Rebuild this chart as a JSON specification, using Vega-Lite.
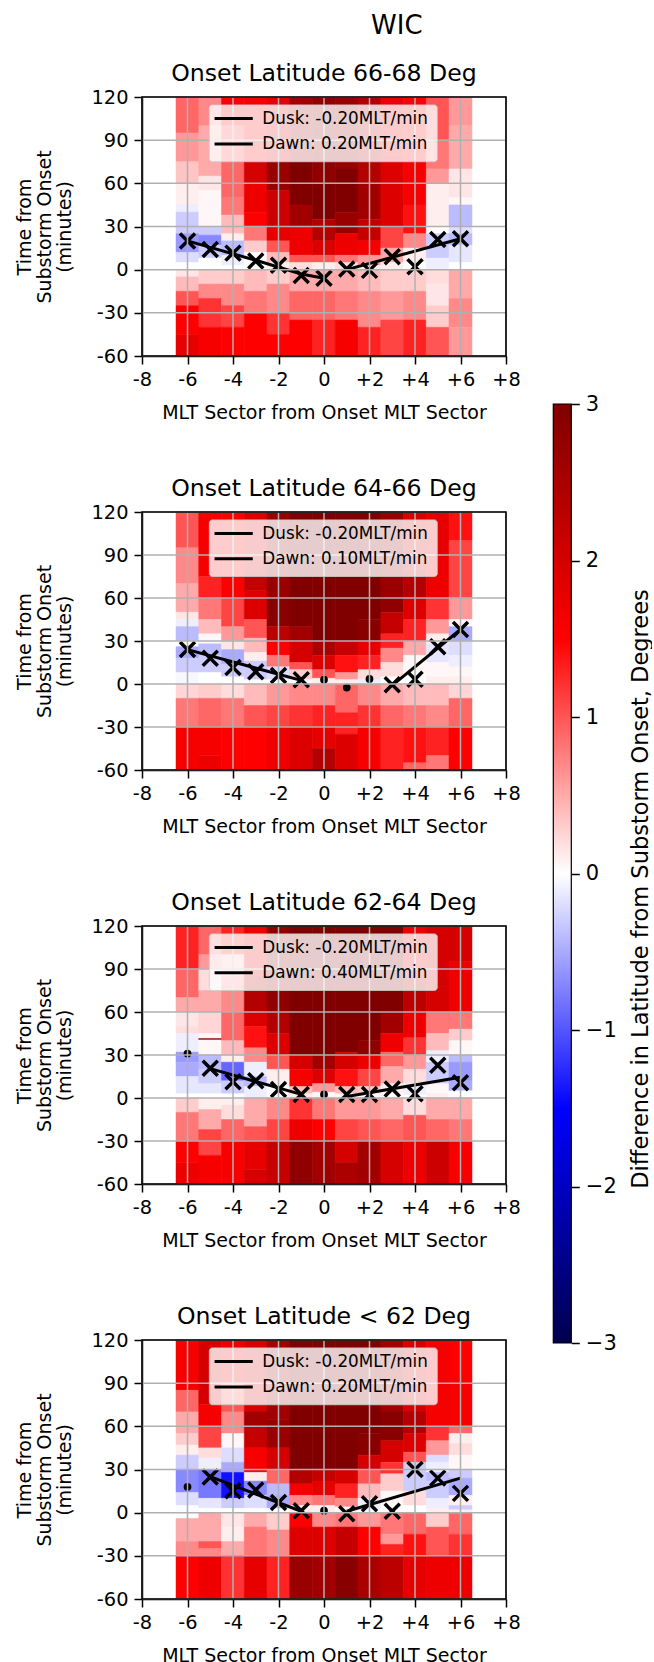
{"$schema":"https://vega.github.io/schema/vega-lite/v6.json","padding":{"left":15,"top":12,"right":0,"bottom":0},"bounds":"flush","spacing":411.3,"background":"white",
"title":{"text":"WIC","fontSize":26,"font":"DejaVu Sans","fontWeight":"normal","anchor":"start","frame":"group","dx":229,"offset":23.5,"color":"black"},
"config":{"font":"DejaVu Sans","view":{"stroke":null},"title":{"font":"DejaVu Sans","fontSize":23.6,"fontWeight":"normal","offset":1,"color":"black"},"axis":{"grid":false,"labelFont":"DejaVu Sans","titleFont":"DejaVu Sans","labelColor":"black","titleColor":"black","tickColor":"black","domainColor":"black","tickWidth":1.5,"domainWidth":1.5,"tickSize":8,"labelFontSize":19.4,"titleFontSize":19,"titleFontWeight":"normal","labelOverlap":false,"labelFlush":false,"labelPadding":6}},
"datasets":{
"gx":[{"g":-8},{"g":-6},{"g":-4},{"g":-2},{"g":0},{"g":2},{"g":4},{"g":6},{"g":8}],
"gy":[{"g":-60},{"g":-30},{"g":0},{"g":30},{"g":60},{"g":90},{"g":120}],
"frame":[{"l":-8,"r":8,"a":-60,"b":120}],
"box":[{"l":-5.04,"r":4.98,"a":75,"b":114.5}],
"samp":[{"l":-4.81,"r":-3.13,"y":105},{"l":-4.81,"r":-3.13,"y":87.4}],
"cbar":[{"l":0,"r":1,"a":-3,"b":3}],
"t1":[{"x":-2.71,"y":105,"t":"Dusk: -0.20MLT/min"},{"x":-2.71,"y":87.4,"t":"Dawn: 0.20MLT/min"}],
"t2":[{"x":-2.71,"y":105,"t":"Dusk: -0.20MLT/min"},{"x":-2.71,"y":87.4,"t":"Dawn: 0.10MLT/min"}],
"t3":[{"x":-2.71,"y":105,"t":"Dusk: -0.20MLT/min"},{"x":-2.71,"y":87.4,"t":"Dawn: 0.40MLT/min"}],
"t4":[{"x":-2.71,"y":105,"t":"Dusk: -0.20MLT/min"},{"x":-2.71,"y":87.4,"t":"Dawn: 0.20MLT/min"}],
"x1":[{"x":-6,"y":20},{"x":-5,"y":14},{"x":-4,"y":11.5},{"x":-3,"y":6},{"x":-2,"y":3},{"x":-1,"y":-4},{"x":0,"y":-6},{"x":1,"y":0.5},{"x":2,"y":-0.5},{"x":3,"y":9},{"x":4,"y":2},{"x":5,"y":21},{"x":6,"y":21.5}],
"x2":[{"x":-6,"y":24},{"x":-5,"y":18},{"x":-4,"y":11.5},{"x":-3,"y":8.6},{"x":-2,"y":6},{"x":-1,"y":3},{"x":3,"y":-0.5},{"x":4,"y":3.3},{"x":5,"y":26},{"x":6,"y":38}],
"x3":[{"x":-5,"y":20.7},{"x":-4,"y":11.4},{"x":-3,"y":12},{"x":-2,"y":6},{"x":-1,"y":2.5},{"x":1,"y":2.5},{"x":2,"y":2.5},{"x":3,"y":6.3},{"x":4,"y":3},{"x":5,"y":22.8},{"x":6,"y":10.7}],
"x4":[{"x":-5,"y":24.8},{"x":-4,"y":15.3},{"x":-3,"y":15.7},{"x":-2,"y":7},{"x":-1,"y":1.4},{"x":1,"y":-0.7},{"x":2,"y":6.2},{"x":3,"y":1},{"x":4,"y":30},{"x":5,"y":24},{"x":6,"y":13.4}],
"d2":[{"x":0,"y":3},{"x":1,"y":-2.5},{"x":2,"y":3.5}],
"d3":[{"x":-6,"y":31},{"x":0,"y":2.5}],
"d4":[{"x":-6,"y":18},{"x":0,"y":1.4}],
"l1":[{"s":"dusk","x":-6,"y":20},{"s":"dusk","x":-3,"y":6.5},{"s":"dusk","x":-1,"y":-3},{"s":"dusk","x":0,"y":-6},{"s":"dawn","x":1,"y":0},{"s":"dawn","x":6,"y":21.5}],
"l2":[{"s":"dusk","x":-6,"y":24},{"s":"dusk","x":-1,"y":2.5},{"s":"dawn","x":3,"y":-1},{"s":"dawn","x":6,"y":38}],
"l3":[{"s":"dusk","x":-5,"y":20.5},{"s":"dusk","x":-1,"y":2.5},{"s":"dawn","x":1,"y":1},{"s":"dawn","x":6,"y":14.5}],
"l4":[{"s":"dusk","x":-5,"y":25},{"s":"dusk","x":-1,"y":1},{"s":"dawn","x":1,"y":1},{"s":"dawn","x":6,"y":24}],
"c1":[
{"x":-6,"a":95,"b":120,"v":0.9},{"x":-6,"a":75,"b":95,"v":0.6},{"x":-6,"a":60,"b":75,"v":0.35},{"x":-6,"a":45,"b":60,"v":0.1},{"x":-6,"a":40,"b":45,"v":-0.1},{"x":-6,"a":25,"b":40,"v":-0.3},{"x":-6,"a":12,"b":25,"v":-0.6},{"x":-6,"a":5,"b":12,"v":-0.2},{"x":-6,"a":0,"b":5,"v":0},{"x":-6,"a":-5,"b":0,"v":0.15},{"x":-6,"a":-15,"b":-5,"v":0.4},{"x":-6,"a":-25,"b":-15,"v":1.0},{"x":-6,"a":-45,"b":-25,"v":1.5},{"x":-6,"a":-60,"b":-45,"v":1.8},
{"x":-5,"a":100,"b":120,"v":0.7},{"x":-5,"a":65,"b":100,"v":0.5},{"x":-5,"a":55,"b":65,"v":0.15},{"x":-5,"a":30,"b":55,"v":0.05},{"x":-5,"a":24,"b":30,"v":-0.3},{"x":-5,"a":17,"b":24,"v":-0.7},{"x":-5,"a":8,"b":17,"v":-0.3},{"x":-5,"a":0,"b":8,"v":0},{"x":-5,"a":-10,"b":0,"v":0.3},{"x":-5,"a":-20,"b":-10,"v":0.7},{"x":-5,"a":-40,"b":-20,"v":1.2},{"x":-5,"a":-60,"b":-40,"v":1.6},
{"x":-4,"a":100,"b":120,"v":1.5},{"x":-4,"a":75,"b":100,"v":1.1},{"x":-4,"a":50,"b":75,"v":0.9},{"x":-4,"a":38,"b":50,"v":0.8},{"x":-4,"a":25,"b":38,"v":0.4},{"x":-4,"a":20,"b":25,"v":0.1},{"x":-4,"a":10,"b":20,"v":-0.4},{"x":-4,"a":3,"b":10,"v":-0.1},{"x":-4,"a":0,"b":3,"v":0},{"x":-4,"a":-10,"b":0,"v":0.3},{"x":-4,"a":-25,"b":-10,"v":0.7},{"x":-4,"a":-40,"b":-25,"v":1.1},{"x":-4,"a":-60,"b":-40,"v":1.5},
{"x":-3,"a":100,"b":120,"v":1.6},{"x":-3,"a":75,"b":100,"v":1.5},{"x":-3,"a":60,"b":75,"v":2.0},{"x":-3,"a":40,"b":60,"v":1.7},{"x":-3,"a":30,"b":40,"v":1.5},{"x":-3,"a":20,"b":30,"v":0.8},{"x":-3,"a":12,"b":20,"v":0.3},{"x":-3,"a":0,"b":12,"v":0},{"x":-3,"a":-15,"b":0,"v":0.4},{"x":-3,"a":-30,"b":-15,"v":0.8},{"x":-3,"a":-60,"b":-30,"v":1.5},
{"x":-2,"a":100,"b":120,"v":1.8},{"x":-2,"a":75,"b":100,"v":1.9},{"x":-2,"a":55,"b":75,"v":2.7},{"x":-2,"a":30,"b":55,"v":2.1},{"x":-2,"a":20,"b":30,"v":1.8},{"x":-2,"a":12,"b":20,"v":1.0},{"x":-2,"a":5,"b":12,"v":0.4},{"x":-2,"a":0,"b":5,"v":0.1},{"x":-2,"a":-10,"b":0,"v":0.3},{"x":-2,"a":-30,"b":-10,"v":0.7},{"x":-2,"a":-45,"b":-30,"v":1.2},{"x":-2,"a":-60,"b":-45,"v":1.5},
{"x":-1,"a":75,"b":120,"v":2.6},{"x":-1,"a":45,"b":75,"v":3},{"x":-1,"a":30,"b":45,"v":2.6},{"x":-1,"a":10,"b":30,"v":1.7},{"x":-1,"a":5,"b":10,"v":1.0},{"x":-1,"a":0,"b":5,"v":0.2},{"x":-1,"a":-15,"b":0,"v":0.5},{"x":-1,"a":-35,"b":-15,"v":0.9},{"x":-1,"a":-60,"b":-35,"v":1.5},
{"x":0,"a":60,"b":120,"v":2.8},{"x":0,"a":35,"b":60,"v":3},{"x":0,"a":20,"b":35,"v":2.4},{"x":0,"a":10,"b":20,"v":1.9},{"x":0,"a":5,"b":10,"v":1.0},{"x":0,"a":0,"b":5,"v":0.1},{"x":0,"a":-15,"b":0,"v":0.5},{"x":0,"a":-35,"b":-15,"v":0.9},{"x":0,"a":-60,"b":-35,"v":1.3},
{"x":1,"a":70,"b":120,"v":2.7},{"x":1,"a":40,"b":70,"v":3},{"x":1,"a":25,"b":40,"v":2.7},{"x":1,"a":10,"b":25,"v":1.7},{"x":1,"a":5,"b":10,"v":0.8},{"x":1,"a":0,"b":5,"v":0.2},{"x":1,"a":-15,"b":0,"v":0.5},{"x":1,"a":-35,"b":-15,"v":0.8},{"x":1,"a":-60,"b":-35,"v":1.6},
{"x":2,"a":60,"b":120,"v":2.4},{"x":2,"a":35,"b":60,"v":2.6},{"x":2,"a":20,"b":35,"v":2.2},{"x":2,"a":10,"b":20,"v":1.6},{"x":2,"a":3,"b":10,"v":0.6},{"x":2,"a":0,"b":3,"v":0.1},{"x":2,"a":-15,"b":0,"v":0.4},{"x":2,"a":-40,"b":-15,"v":0.7},{"x":2,"a":-60,"b":-40,"v":1.3},
{"x":3,"a":80,"b":120,"v":1.7},{"x":3,"a":30,"b":80,"v":1.9},{"x":3,"a":15,"b":30,"v":1.1},{"x":3,"a":5,"b":15,"v":0.5},{"x":3,"a":0,"b":5,"v":0.1},{"x":3,"a":-15,"b":0,"v":0.3},{"x":3,"a":-35,"b":-15,"v":0.6},{"x":3,"a":-60,"b":-35,"v":1.1},
{"x":4,"a":80,"b":120,"v":1.5},{"x":4,"a":45,"b":80,"v":1.6},{"x":4,"a":25,"b":45,"v":1.4},{"x":4,"a":15,"b":25,"v":0.7},{"x":4,"a":5,"b":15,"v":0.1},{"x":4,"a":0,"b":5,"v":0},{"x":4,"a":-15,"b":0,"v":0.3},{"x":4,"a":-35,"b":-15,"v":0.7},{"x":4,"a":-60,"b":-35,"v":1.3},
{"x":5,"a":90,"b":120,"v":1.0},{"x":5,"a":70,"b":90,"v":0.8},{"x":5,"a":60,"b":70,"v":0.6},{"x":5,"a":30,"b":60,"v":0.1},{"x":5,"a":25,"b":30,"v":0},{"x":5,"a":8,"b":25,"v":-0.3},{"x":5,"a":0,"b":8,"v":-0.1},{"x":5,"a":-10,"b":0,"v":0.2},{"x":5,"a":-25,"b":-10,"v":0.15},{"x":5,"a":-40,"b":-25,"v":0.3},{"x":5,"a":-60,"b":-40,"v":1.0},
{"x":6,"a":100,"b":120,"v":0.6},{"x":6,"a":70,"b":100,"v":0.5},{"x":6,"a":50,"b":70,"v":0.15},{"x":6,"a":45,"b":50,"v":0.05},{"x":6,"a":30,"b":45,"v":-0.4},{"x":6,"a":25,"b":30,"v":-0.2},{"x":6,"a":17,"b":25,"v":-0.4},{"x":6,"a":5,"b":17,"v":-0.15},{"x":6,"a":0,"b":5,"v":0},{"x":6,"a":-20,"b":0,"v":0.5},{"x":6,"a":-40,"b":-20,"v":0.7},{"x":6,"a":-60,"b":-40,"v":0.6}],
"c2":[
{"x":-6,"a":95,"b":120,"v":1.0},{"x":-6,"a":70,"b":95,"v":0.7},{"x":-6,"a":50,"b":70,"v":0.5},{"x":-6,"a":45,"b":50,"v":0.15},{"x":-6,"a":40,"b":45,"v":-0.1},{"x":-6,"a":30,"b":40,"v":-0.4},{"x":-6,"a":26,"b":30,"v":0},{"x":-6,"a":18,"b":26,"v":-0.5},{"x":-6,"a":8,"b":18,"v":-0.3},{"x":-6,"a":0,"b":8,"v":-0.05},{"x":-6,"a":-10,"b":0,"v":0.25},{"x":-6,"a":-30,"b":-10,"v":0.8},{"x":-6,"a":-60,"b":-30,"v":1.6},
{"x":-5,"a":75,"b":120,"v":1.6},{"x":-5,"a":60,"b":75,"v":1.3},{"x":-5,"a":45,"b":60,"v":0.8},{"x":-5,"a":35,"b":45,"v":0.4},{"x":-5,"a":28,"b":35,"v":0.05},{"x":-5,"a":20,"b":28,"v":-0.4},{"x":-5,"a":8,"b":20,"v":-0.3},{"x":-5,"a":0,"b":8,"v":0},{"x":-5,"a":-10,"b":0,"v":0.3},{"x":-5,"a":-30,"b":-10,"v":0.9},{"x":-5,"a":-50,"b":-30,"v":1.6},{"x":-5,"a":-60,"b":-50,"v":1.7},
{"x":-4,"a":60,"b":120,"v":1.5},{"x":-4,"a":40,"b":60,"v":1.1},{"x":-4,"a":30,"b":40,"v":0.6},{"x":-4,"a":24,"b":30,"v":0.15},{"x":-4,"a":14,"b":24,"v":-0.5},{"x":-4,"a":5,"b":14,"v":-0.3},{"x":-4,"a":0,"b":5,"v":0},{"x":-4,"a":-10,"b":0,"v":0.2},{"x":-4,"a":-30,"b":-10,"v":0.8},{"x":-4,"a":-60,"b":-30,"v":1.5},
{"x":-3,"a":80,"b":120,"v":1.9},{"x":-3,"a":65,"b":80,"v":2.2},{"x":-3,"a":45,"b":65,"v":1.9},{"x":-3,"a":32,"b":45,"v":1.0},{"x":-3,"a":22,"b":32,"v":0.4},{"x":-3,"a":16,"b":22,"v":0.1},{"x":-3,"a":3,"b":16,"v":-0.3},{"x":-3,"a":0,"b":3,"v":0},{"x":-3,"a":-15,"b":0,"v":0.4},{"x":-3,"a":-30,"b":-15,"v":1},{"x":-3,"a":-60,"b":-30,"v":1.5},
{"x":-2,"a":60,"b":120,"v":2.7},{"x":-2,"a":40,"b":60,"v":2.9},{"x":-2,"a":30,"b":40,"v":2.3},{"x":-2,"a":20,"b":30,"v":1.5},{"x":-2,"a":12,"b":20,"v":0.8},{"x":-2,"a":3,"b":12,"v":-0.2},{"x":-2,"a":0,"b":3,"v":0},{"x":-2,"a":-15,"b":0,"v":0.6},{"x":-2,"a":-30,"b":-15,"v":1.1},{"x":-2,"a":-60,"b":-30,"v":1.7},
{"x":-1,"a":40,"b":120,"v":3},{"x":-1,"a":30,"b":40,"v":2.6},{"x":-1,"a":15,"b":30,"v":2},{"x":-1,"a":10,"b":15,"v":1},{"x":-1,"a":3,"b":10,"v":0.3},{"x":-1,"a":0,"b":3,"v":0},{"x":-1,"a":-15,"b":0,"v":0.7},{"x":-1,"a":-30,"b":-15,"v":1.2},{"x":-1,"a":-60,"b":-30,"v":1.9},
{"x":0,"a":30,"b":120,"v":3},{"x":0,"a":20,"b":30,"v":2.5},{"x":0,"a":10,"b":20,"v":1.9},{"x":0,"a":4,"b":10,"v":1},{"x":0,"a":0,"b":4,"v":0.1},{"x":0,"a":-15,"b":0,"v":0.7},{"x":0,"a":-30,"b":-15,"v":1.3},{"x":0,"a":-45,"b":-30,"v":1.8},{"x":0,"a":-60,"b":-45,"v":2.4},
{"x":1,"a":30,"b":120,"v":3},{"x":1,"a":20,"b":30,"v":2.2},{"x":1,"a":8,"b":20,"v":1.4},{"x":1,"a":3,"b":8,"v":0.6},{"x":1,"a":0,"b":3,"v":0.1},{"x":1,"a":-20,"b":0,"v":0.9},{"x":1,"a":-35,"b":-20,"v":1.3},{"x":1,"a":-60,"b":-35,"v":1.9},
{"x":2,"a":45,"b":120,"v":3},{"x":2,"a":30,"b":45,"v":2.9},{"x":2,"a":20,"b":30,"v":1.8},{"x":2,"a":10,"b":20,"v":1.3},{"x":2,"a":3,"b":10,"v":0.2},{"x":2,"a":0,"b":3,"v":-0.1},{"x":2,"a":-15,"b":0,"v":0.7},{"x":2,"a":-30,"b":-15,"v":1.2},{"x":2,"a":-60,"b":-30,"v":1.6},
{"x":3,"a":60,"b":120,"v":2.7},{"x":3,"a":50,"b":60,"v":2.8},{"x":3,"a":35,"b":50,"v":2.2},{"x":3,"a":25,"b":35,"v":1.3},{"x":3,"a":15,"b":25,"v":0.7},{"x":3,"a":5,"b":15,"v":0.2},{"x":3,"a":0,"b":5,"v":0},{"x":3,"a":-15,"b":0,"v":0.5},{"x":3,"a":-30,"b":-15,"v":0.9},{"x":3,"a":-60,"b":-30,"v":1.3},
{"x":4,"a":80,"b":120,"v":2},{"x":4,"a":60,"b":80,"v":2.4},{"x":4,"a":45,"b":60,"v":1.9},{"x":4,"a":30,"b":45,"v":1.3},{"x":4,"a":20,"b":30,"v":0.5},{"x":4,"a":8,"b":20,"v":0.05},{"x":4,"a":0,"b":8,"v":0},{"x":4,"a":-15,"b":0,"v":0.4},{"x":4,"a":-30,"b":-15,"v":0.8},{"x":4,"a":-55,"b":-30,"v":1.4},{"x":4,"a":-60,"b":-55,"v":0.9},
{"x":5,"a":90,"b":120,"v":1.8},{"x":5,"a":60,"b":90,"v":1.7},{"x":5,"a":45,"b":60,"v":1.2},{"x":5,"a":35,"b":45,"v":0.6},{"x":5,"a":28,"b":35,"v":0.1},{"x":5,"a":15,"b":28,"v":-0.15},{"x":5,"a":5,"b":15,"v":0.05},{"x":5,"a":0,"b":5,"v":0.1},{"x":5,"a":-15,"b":0,"v":0.4},{"x":5,"a":-30,"b":-15,"v":0.7},{"x":5,"a":-50,"b":-30,"v":1.3},{"x":5,"a":-60,"b":-50,"v":0.8},
{"x":6,"a":100,"b":120,"v":1.4},{"x":6,"a":60,"b":100,"v":1.1},{"x":6,"a":45,"b":60,"v":0.6},{"x":6,"a":40,"b":45,"v":0.05},{"x":6,"a":30,"b":40,"v":-0.5},{"x":6,"a":20,"b":30,"v":-0.2},{"x":6,"a":12,"b":20,"v":-0.1},{"x":6,"a":5,"b":12,"v":0.05},{"x":6,"a":0,"b":5,"v":0.1},{"x":6,"a":-10,"b":0,"v":0.25},{"x":6,"a":-30,"b":-10,"v":0.9},{"x":6,"a":-60,"b":-30,"v":1.5}],
"c3":[
{"x":-6,"a":90,"b":120,"v":1.3},{"x":-6,"a":70,"b":90,"v":0.9},{"x":-6,"a":60,"b":70,"v":0.5},{"x":-6,"a":50,"b":60,"v":0.15},{"x":-6,"a":45,"b":50,"v":0.2},{"x":-6,"a":32,"b":45,"v":-0.1},{"x":-6,"a":25,"b":32,"v":-0.6},{"x":-6,"a":15,"b":25,"v":-0.5},{"x":-6,"a":3,"b":15,"v":-0.15},{"x":-6,"a":0,"b":3,"v":0},{"x":-6,"a":-10,"b":0,"v":0.3},{"x":-6,"a":-30,"b":-10,"v":0.8},{"x":-6,"a":-45,"b":-30,"v":1.5},{"x":-6,"a":-60,"b":-45,"v":1.7},
{"x":-5,"a":100,"b":120,"v":0.9},{"x":-5,"a":90,"b":100,"v":0.6},{"x":-5,"a":75,"b":90,"v":0.2},{"x":-5,"a":60,"b":75,"v":0.5},{"x":-5,"a":45,"b":60,"v":0.25},{"x":-5,"a":41.5,"b":45,"v":0.05},{"x":-5,"a":40.5,"b":41.5,"v":2.8},{"x":-5,"a":30,"b":40.5,"v":0.05},{"x":-5,"a":20,"b":30,"v":-0.4},{"x":-5,"a":10,"b":20,"v":-0.3},{"x":-5,"a":3,"b":10,"v":-0.15},{"x":-5,"a":0,"b":3,"v":0},{"x":-5,"a":-8,"b":0,"v":0.1},{"x":-5,"a":-22,"b":-8,"v":0.5},{"x":-5,"a":-40,"b":-22,"v":1.1},{"x":-5,"a":-60,"b":-40,"v":1.6},
{"x":-4,"a":100,"b":120,"v":1.3},{"x":-4,"a":85,"b":100,"v":0.4},{"x":-4,"a":60,"b":85,"v":0.7},{"x":-4,"a":40,"b":60,"v":0.9},{"x":-4,"a":30,"b":40,"v":0.4},{"x":-4,"a":25,"b":30,"v":0.1},{"x":-4,"a":12,"b":25,"v":-0.9},{"x":-4,"a":3,"b":12,"v":-0.3},{"x":-4,"a":0,"b":3,"v":0},{"x":-4,"a":-5,"b":0,"v":0.1},{"x":-4,"a":-15,"b":-5,"v":0.2},{"x":-4,"a":-30,"b":-15,"v":0.9},{"x":-4,"a":-60,"b":-30,"v":1.6},
{"x":-3,"a":85,"b":120,"v":1.7},{"x":-3,"a":60,"b":85,"v":2.4},{"x":-3,"a":50,"b":60,"v":1.9},{"x":-3,"a":35,"b":50,"v":1.4},{"x":-3,"a":25,"b":35,"v":0.7},{"x":-3,"a":15,"b":25,"v":-0.1},{"x":-3,"a":8,"b":15,"v":-0.4},{"x":-3,"a":0,"b":8,"v":-0.1},{"x":-3,"a":-20,"b":0,"v":0.5},{"x":-3,"a":-30,"b":-20,"v":1},{"x":-3,"a":-50,"b":-30,"v":1.8},{"x":-3,"a":-60,"b":-50,"v":2},
{"x":-2,"a":60,"b":120,"v":2.8},{"x":-2,"a":45,"b":60,"v":2.4},{"x":-2,"a":30,"b":45,"v":1.9},{"x":-2,"a":20,"b":30,"v":1.0},{"x":-2,"a":8,"b":20,"v":0.1},{"x":-2,"a":0,"b":8,"v":0},{"x":-2,"a":-15,"b":0,"v":0.7},{"x":-2,"a":-30,"b":-15,"v":1.1},{"x":-2,"a":-60,"b":-30,"v":2.2},
{"x":-1,"a":30,"b":120,"v":3},{"x":-1,"a":20,"b":30,"v":2},{"x":-1,"a":8,"b":20,"v":1.6},{"x":-1,"a":3,"b":8,"v":0.4},{"x":-1,"a":0,"b":3,"v":0.1},{"x":-1,"a":-15,"b":0,"v":1.2},{"x":-1,"a":-30,"b":-15,"v":1.7},{"x":-1,"a":-60,"b":-30,"v":2.8},
{"x":0,"a":30,"b":120,"v":3},{"x":0,"a":20,"b":30,"v":2.6},{"x":0,"a":10,"b":20,"v":1.9},{"x":0,"a":4,"b":10,"v":0.6},{"x":0,"a":0,"b":4,"v":0.05},{"x":0,"a":-15,"b":0,"v":0.8},{"x":0,"a":-30,"b":-15,"v":1.5},{"x":0,"a":-60,"b":-30,"v":2.6},
{"x":1,"a":32,"b":120,"v":3},{"x":1,"a":20,"b":32,"v":2},{"x":1,"a":8,"b":20,"v":1.4},{"x":1,"a":3,"b":8,"v":0.4},{"x":1,"a":0,"b":3,"v":0.05},{"x":1,"a":-15,"b":0,"v":0.6},{"x":1,"a":-30,"b":-15,"v":1.1},{"x":1,"a":-45,"b":-30,"v":2},{"x":1,"a":-60,"b":-45,"v":2.5},
{"x":2,"a":40,"b":120,"v":3},{"x":2,"a":30,"b":40,"v":2.8},{"x":2,"a":20,"b":30,"v":1.7},{"x":2,"a":8,"b":20,"v":1.1},{"x":2,"a":3,"b":8,"v":0.3},{"x":2,"a":0,"b":3,"v":0},{"x":2,"a":-15,"b":0,"v":0.6},{"x":2,"a":-30,"b":-15,"v":1},{"x":2,"a":-60,"b":-30,"v":2.6},
{"x":3,"a":60,"b":120,"v":3},{"x":3,"a":45,"b":60,"v":2.6},{"x":3,"a":32,"b":45,"v":1.7},{"x":3,"a":22,"b":32,"v":0.9},{"x":3,"a":10,"b":22,"v":0.5},{"x":3,"a":3,"b":10,"v":0.1},{"x":3,"a":0,"b":3,"v":0},{"x":3,"a":-15,"b":0,"v":0.5},{"x":3,"a":-30,"b":-15,"v":0.9},{"x":3,"a":-60,"b":-30,"v":2},
{"x":4,"a":85,"b":120,"v":1.7},{"x":4,"a":60,"b":85,"v":2.3},{"x":4,"a":42,"b":60,"v":1.7},{"x":4,"a":30,"b":42,"v":1.2},{"x":4,"a":20,"b":30,"v":0.6},{"x":4,"a":10,"b":20,"v":0.2},{"x":4,"a":2,"b":10,"v":-0.1},{"x":4,"a":0,"b":2,"v":0},{"x":4,"a":-12,"b":0,"v":0.2},{"x":4,"a":-30,"b":-12,"v":1},{"x":4,"a":-60,"b":-30,"v":1.7},
{"x":5,"a":60,"b":120,"v":2},{"x":5,"a":45,"b":60,"v":0.8},{"x":5,"a":33,"b":45,"v":0.4},{"x":5,"a":25,"b":33,"v":-0.1},{"x":5,"a":10,"b":25,"v":-0.3},{"x":5,"a":3,"b":10,"v":0.05},{"x":5,"a":0,"b":3,"v":0.1},{"x":5,"a":-15,"b":0,"v":0.5},{"x":5,"a":-30,"b":-15,"v":0.9},{"x":5,"a":-60,"b":-30,"v":2.1},
{"x":6,"a":95,"b":120,"v":2},{"x":6,"a":60,"b":95,"v":1.7},{"x":6,"a":48,"b":60,"v":0.8},{"x":6,"a":40,"b":48,"v":0.3},{"x":6,"a":30,"b":40,"v":0.05},{"x":6,"a":25,"b":30,"v":-0.4},{"x":6,"a":12,"b":25,"v":-0.6},{"x":6,"a":5,"b":12,"v":-0.5},{"x":6,"a":0,"b":5,"v":0},{"x":6,"a":-15,"b":0,"v":0.5},{"x":6,"a":-30,"b":-15,"v":0.8},{"x":6,"a":-60,"b":-30,"v":1.6}],
"c4":[
{"x":-6,"a":85,"b":120,"v":1.6},{"x":-6,"a":70,"b":85,"v":0.9},{"x":-6,"a":55,"b":70,"v":0.5},{"x":-6,"a":47,"b":55,"v":0.3},{"x":-6,"a":40,"b":47,"v":0.1},{"x":-6,"a":30,"b":40,"v":-0.3},{"x":-6,"a":14,"b":30,"v":-0.7},{"x":-6,"a":5,"b":14,"v":-0.2},{"x":-6,"a":-4,"b":5,"v":-0.02},{"x":-6,"a":-20,"b":-4,"v":0.5},{"x":-6,"a":-30,"b":-20,"v":0.7},{"x":-6,"a":-60,"b":-30,"v":1.5},
{"x":-5,"a":75,"b":120,"v":2},{"x":-5,"a":60,"b":75,"v":1.6},{"x":-5,"a":45,"b":60,"v":1.1},{"x":-5,"a":38,"b":45,"v":0.2},{"x":-5,"a":30,"b":38,"v":-0.1},{"x":-5,"a":10,"b":30,"v":-0.8},{"x":-5,"a":3,"b":10,"v":-0.15},{"x":-5,"a":0,"b":3,"v":0},{"x":-5,"a":-20,"b":0,"v":0.5},{"x":-5,"a":-25,"b":-20,"v":1},{"x":-5,"a":-30,"b":-25,"v":0.7},{"x":-5,"a":-60,"b":-30,"v":1.7},
{"x":-4,"a":90,"b":120,"v":1.7},{"x":-4,"a":70,"b":90,"v":1},{"x":-4,"a":55,"b":70,"v":0.7},{"x":-4,"a":45,"b":55,"v":0.05},{"x":-4,"a":35,"b":45,"v":-0.2},{"x":-4,"a":28,"b":35,"v":-0.5},{"x":-4,"a":10,"b":28,"v":-1.4},{"x":-4,"a":3,"b":10,"v":-0.3},{"x":-4,"a":0,"b":3,"v":0},{"x":-4,"a":-10,"b":0,"v":0.15},{"x":-4,"a":-20,"b":-10,"v":0.1},{"x":-4,"a":-30,"b":-20,"v":0.5},{"x":-4,"a":-60,"b":-30,"v":1.2},
{"x":-3,"a":70,"b":120,"v":2},{"x":-3,"a":60,"b":70,"v":2.6},{"x":-3,"a":45,"b":60,"v":2.2},{"x":-3,"a":28,"b":45,"v":1.6},{"x":-3,"a":22,"b":28,"v":0.1},{"x":-3,"a":12,"b":22,"v":-0.7},{"x":-3,"a":3,"b":12,"v":-0.2},{"x":-3,"a":0,"b":3,"v":0},{"x":-3,"a":-10,"b":0,"v":0.5},{"x":-3,"a":-30,"b":-10,"v":0.8},{"x":-3,"a":-60,"b":-30,"v":1.8},
{"x":-2,"a":65,"b":120,"v":2.6},{"x":-2,"a":45,"b":65,"v":2.7},{"x":-2,"a":30,"b":45,"v":2},{"x":-2,"a":20,"b":30,"v":0.9},{"x":-2,"a":12,"b":20,"v":-0.4},{"x":-2,"a":3,"b":12,"v":-0.5},{"x":-2,"a":0,"b":3,"v":0},{"x":-2,"a":-12,"b":0,"v":0.3},{"x":-2,"a":-30,"b":-12,"v":0.7},{"x":-2,"a":-60,"b":-30,"v":1.3},
{"x":-1,"a":30,"b":120,"v":3},{"x":-1,"a":20,"b":30,"v":2.4},{"x":-1,"a":12,"b":20,"v":1.6},{"x":-1,"a":5,"b":12,"v":0.7},{"x":-1,"a":0,"b":5,"v":0.1},{"x":-1,"a":-10,"b":0,"v":1.5},{"x":-1,"a":-30,"b":-10,"v":1.9},{"x":-1,"a":-60,"b":-30,"v":2.7},
{"x":0,"a":30,"b":120,"v":3},{"x":0,"a":22,"b":30,"v":2.2},{"x":0,"a":12,"b":22,"v":1.8},{"x":0,"a":5,"b":12,"v":0.8},{"x":0,"a":0,"b":5,"v":0.1},{"x":0,"a":-10,"b":0,"v":0.7},{"x":0,"a":-30,"b":-10,"v":1.9},{"x":0,"a":-60,"b":-30,"v":2.6},
{"x":1,"a":30,"b":120,"v":3},{"x":1,"a":20,"b":30,"v":2},{"x":1,"a":10,"b":20,"v":1.3},{"x":1,"a":4,"b":10,"v":0.7},{"x":1,"a":0,"b":4,"v":0.05},{"x":1,"a":-10,"b":0,"v":0.8},{"x":1,"a":-30,"b":-10,"v":2.2},{"x":1,"a":-60,"b":-30,"v":2.9},
{"x":2,"a":55,"b":120,"v":3},{"x":2,"a":40,"b":55,"v":2.9},{"x":2,"a":30,"b":40,"v":2},{"x":2,"a":20,"b":30,"v":1},{"x":2,"a":10,"b":20,"v":0.4},{"x":2,"a":2,"b":10,"v":-0.1},{"x":2,"a":0,"b":2,"v":0},{"x":2,"a":-10,"b":0,"v":0.6},{"x":2,"a":-30,"b":-10,"v":1.5},{"x":2,"a":-60,"b":-30,"v":2.5},
{"x":3,"a":70,"b":120,"v":2.6},{"x":3,"a":50,"b":70,"v":2.9},{"x":3,"a":35,"b":50,"v":2},{"x":3,"a":27,"b":35,"v":1.2},{"x":3,"a":15,"b":27,"v":0.3},{"x":3,"a":5,"b":15,"v":0.05},{"x":3,"a":0,"b":5,"v":0},{"x":3,"a":-15,"b":0,"v":0.8},{"x":3,"a":-22,"b":-15,"v":0.6},{"x":3,"a":-30,"b":-22,"v":1.3},{"x":3,"a":-60,"b":-30,"v":2.3},
{"x":4,"a":70,"b":120,"v":2},{"x":4,"a":55,"b":70,"v":2.4},{"x":4,"a":42,"b":55,"v":1.9},{"x":4,"a":35,"b":42,"v":1},{"x":4,"a":15,"b":35,"v":-0.3},{"x":4,"a":5,"b":15,"v":0.2},{"x":4,"a":0,"b":5,"v":0},{"x":4,"a":-15,"b":0,"v":0.9},{"x":4,"a":-30,"b":-15,"v":1.4},{"x":4,"a":-60,"b":-30,"v":1.8},
{"x":5,"a":60,"b":120,"v":1.6},{"x":5,"a":50,"b":60,"v":1.2},{"x":5,"a":40,"b":50,"v":0.6},{"x":5,"a":35,"b":40,"v":-0.2},{"x":5,"a":28,"b":35,"v":-0.1},{"x":5,"a":22,"b":28,"v":-0.4},{"x":5,"a":10,"b":22,"v":-0.3},{"x":5,"a":3,"b":10,"v":-0.1},{"x":5,"a":0,"b":3,"v":0.1},{"x":5,"a":-10,"b":0,"v":0.3},{"x":5,"a":-30,"b":-10,"v":1},{"x":5,"a":-60,"b":-30,"v":1.7},
{"x":6,"a":90,"b":120,"v":1.5},{"x":6,"a":60,"b":90,"v":1.6},{"x":6,"a":55,"b":60,"v":0.9},{"x":6,"a":48,"b":55,"v":0.1},{"x":6,"a":40,"b":48,"v":0.2},{"x":6,"a":30,"b":40,"v":0.05},{"x":6,"a":24,"b":30,"v":-0.3},{"x":6,"a":12,"b":24,"v":-0.5},{"x":6,"a":5,"b":12,"v":0.1},{"x":6,"a":2,"b":5,"v":-0.3},{"x":6,"a":0,"b":2,"v":0.1},{"x":6,"a":-15,"b":0,"v":0.9},{"x":6,"a":-30,"b":-15,"v":1.2},{"x":6,"a":-60,"b":-30,"v":1.7}]
},
"hconcat":[
{"spacing":156,"bounds":"flush","vconcat":[
{"title":"Onset Latitude 66-68 Deg","width":364,"height":259,"layer":[
{"data":{"name":"c1"},"mark":{"type":"rect","width":23,"strokeWidth":0.5},"encoding":{"x":{"field":"x","type":"quantitative","scale":{"domain":[-8,8],"nice":false,"zero":false},"axis":{"values":[-8,-6,-4,-2,0,2,4,6,8],"labelExpr":"datum.value>0?'+'+datum.value:''+datum.value","title":"MLT Sector from Onset MLT Sector","titlePadding":15}},"y":{"field":"a","type":"quantitative","scale":{"domain":[-60,120],"nice":false,"zero":false},"axis":{"values":[-60,-30,0,30,60,90,120],"labelExpr":"''+datum.value","title":["Time from","Substorm Onset","(minutes)"],"titlePadding":16.7,"titleLineHeight":20}},"y2":{"field":"b"},"color":{"field":"v","type":"quantitative","scale":{"domain":[-3,-1.5,0,1.5,3],"range":["#00004d","#0000ff","#ffffff","#ff0000","#800000"],"interpolate":"rgb"},"legend":null},"stroke":{"field":"v","type":"quantitative","scale":{"domain":[-3,-1.5,0,1.5,3],"range":["#00004d","#0000ff","#ffffff","#ff0000","#800000"],"interpolate":"rgb"},"legend":null}}},
{"data":{"name":"x1"},"mark":{"type":"point","shape":"M-1,-1L1,1M-1,1L1,-1","filled":false,"stroke":"black","strokeWidth":3.5,"size":225,"opacity":1},"encoding":{"x":{"field":"x","type":"quantitative"},"y":{"field":"y","type":"quantitative"}}},
{"data":{"name":"l1"},"mark":{"type":"line","color":"black","strokeWidth":3},"encoding":{"x":{"field":"x","type":"quantitative"},"y":{"field":"y","type":"quantitative"},"detail":{"field":"s"}}},
{"data":{"name":"gx"},"mark":{"type":"rule","color":"#b0b0b0","strokeWidth":1.5},"encoding":{"x":{"field":"g","type":"quantitative"}}},
{"data":{"name":"gy"},"mark":{"type":"rule","color":"#b0b0b0","strokeWidth":1.5},"encoding":{"y":{"field":"g","type":"quantitative"}}},
{"data":{"name":"frame"},"mark":{"type":"rect","fill":null,"stroke":"black","strokeWidth":1.6},"encoding":{"x":{"field":"l","type":"quantitative"},"x2":{"field":"r"},"y":{"field":"a","type":"quantitative"},"y2":{"field":"b"}}},
{"data":{"name":"box"},"mark":{"type":"rect","fill":"white","fillOpacity":0.8,"stroke":"#cccccc","strokeOpacity":0.8,"strokeWidth":1,"cornerRadius":3},"encoding":{"x":{"field":"l","type":"quantitative"},"x2":{"field":"r"},"y":{"field":"a","type":"quantitative"},"y2":{"field":"b"}}},
{"data":{"name":"samp"},"mark":{"type":"rule","color":"black","strokeWidth":3},"encoding":{"x":{"field":"l","type":"quantitative"},"x2":{"field":"r"},"y":{"field":"y","type":"quantitative"}}},
{"data":{"name":"t1"},"mark":{"type":"text","align":"left","baseline":"middle","fontSize":16.8,"color":"black"},"encoding":{"x":{"field":"x","type":"quantitative"},"y":{"field":"y","type":"quantitative"},"text":{"field":"t"}}}
]},
{"title":"Onset Latitude 64-66 Deg","width":364,"height":258,"layer":[
{"data":{"name":"c2"},"mark":{"type":"rect","width":23,"strokeWidth":0.5},"encoding":{"x":{"field":"x","type":"quantitative","scale":{"domain":[-8,8],"nice":false,"zero":false},"axis":{"values":[-8,-6,-4,-2,0,2,4,6,8],"labelExpr":"datum.value>0?'+'+datum.value:''+datum.value","title":"MLT Sector from Onset MLT Sector","titlePadding":15}},"y":{"field":"a","type":"quantitative","scale":{"domain":[-60,120],"nice":false,"zero":false},"axis":{"values":[-60,-30,0,30,60,90,120],"labelExpr":"''+datum.value","title":["Time from","Substorm Onset","(minutes)"],"titlePadding":16.7,"titleLineHeight":20}},"y2":{"field":"b"},"color":{"field":"v","type":"quantitative","scale":{"domain":[-3,-1.5,0,1.5,3],"range":["#00004d","#0000ff","#ffffff","#ff0000","#800000"],"interpolate":"rgb"},"legend":null},"stroke":{"field":"v","type":"quantitative","scale":{"domain":[-3,-1.5,0,1.5,3],"range":["#00004d","#0000ff","#ffffff","#ff0000","#800000"],"interpolate":"rgb"},"legend":null}}},
{"data":{"name":"d2"},"mark":{"type":"point","shape":"circle","filled":true,"color":"black","size":60,"opacity":1},"encoding":{"x":{"field":"x","type":"quantitative"},"y":{"field":"y","type":"quantitative"}}},
{"data":{"name":"x2"},"mark":{"type":"point","shape":"M-1,-1L1,1M-1,1L1,-1","filled":false,"stroke":"black","strokeWidth":3.5,"size":225,"opacity":1},"encoding":{"x":{"field":"x","type":"quantitative"},"y":{"field":"y","type":"quantitative"}}},
{"data":{"name":"l2"},"mark":{"type":"line","color":"black","strokeWidth":3},"encoding":{"x":{"field":"x","type":"quantitative"},"y":{"field":"y","type":"quantitative"},"detail":{"field":"s"}}},
{"data":{"name":"gx"},"mark":{"type":"rule","color":"#b0b0b0","strokeWidth":1.5},"encoding":{"x":{"field":"g","type":"quantitative"}}},
{"data":{"name":"gy"},"mark":{"type":"rule","color":"#b0b0b0","strokeWidth":1.5},"encoding":{"y":{"field":"g","type":"quantitative"}}},
{"data":{"name":"frame"},"mark":{"type":"rect","fill":null,"stroke":"black","strokeWidth":1.6},"encoding":{"x":{"field":"l","type":"quantitative"},"x2":{"field":"r"},"y":{"field":"a","type":"quantitative"},"y2":{"field":"b"}}},
{"data":{"name":"box"},"mark":{"type":"rect","fill":"white","fillOpacity":0.8,"stroke":"#cccccc","strokeOpacity":0.8,"strokeWidth":1,"cornerRadius":3},"encoding":{"x":{"field":"l","type":"quantitative"},"x2":{"field":"r"},"y":{"field":"a","type":"quantitative"},"y2":{"field":"b"}}},
{"data":{"name":"samp"},"mark":{"type":"rule","color":"black","strokeWidth":3},"encoding":{"x":{"field":"l","type":"quantitative"},"x2":{"field":"r"},"y":{"field":"y","type":"quantitative"}}},
{"data":{"name":"t2"},"mark":{"type":"text","align":"left","baseline":"middle","fontSize":16.8,"color":"black"},"encoding":{"x":{"field":"x","type":"quantitative"},"y":{"field":"y","type":"quantitative"},"text":{"field":"t"}}}
]},
{"title":"Onset Latitude 62-64 Deg","width":364,"height":258,"layer":[
{"data":{"name":"c3"},"mark":{"type":"rect","width":23,"strokeWidth":0.5},"encoding":{"x":{"field":"x","type":"quantitative","scale":{"domain":[-8,8],"nice":false,"zero":false},"axis":{"values":[-8,-6,-4,-2,0,2,4,6,8],"labelExpr":"datum.value>0?'+'+datum.value:''+datum.value","title":"MLT Sector from Onset MLT Sector","titlePadding":15}},"y":{"field":"a","type":"quantitative","scale":{"domain":[-60,120],"nice":false,"zero":false},"axis":{"values":[-60,-30,0,30,60,90,120],"labelExpr":"''+datum.value","title":["Time from","Substorm Onset","(minutes)"],"titlePadding":16.7,"titleLineHeight":20}},"y2":{"field":"b"},"color":{"field":"v","type":"quantitative","scale":{"domain":[-3,-1.5,0,1.5,3],"range":["#00004d","#0000ff","#ffffff","#ff0000","#800000"],"interpolate":"rgb"},"legend":null},"stroke":{"field":"v","type":"quantitative","scale":{"domain":[-3,-1.5,0,1.5,3],"range":["#00004d","#0000ff","#ffffff","#ff0000","#800000"],"interpolate":"rgb"},"legend":null}}},
{"data":{"name":"d3"},"mark":{"type":"point","shape":"circle","filled":true,"color":"black","size":60,"opacity":1},"encoding":{"x":{"field":"x","type":"quantitative"},"y":{"field":"y","type":"quantitative"}}},
{"data":{"name":"x3"},"mark":{"type":"point","shape":"M-1,-1L1,1M-1,1L1,-1","filled":false,"stroke":"black","strokeWidth":3.5,"size":225,"opacity":1},"encoding":{"x":{"field":"x","type":"quantitative"},"y":{"field":"y","type":"quantitative"}}},
{"data":{"name":"l3"},"mark":{"type":"line","color":"black","strokeWidth":3},"encoding":{"x":{"field":"x","type":"quantitative"},"y":{"field":"y","type":"quantitative"},"detail":{"field":"s"}}},
{"data":{"name":"gx"},"mark":{"type":"rule","color":"#b0b0b0","strokeWidth":1.5},"encoding":{"x":{"field":"g","type":"quantitative"}}},
{"data":{"name":"gy"},"mark":{"type":"rule","color":"#b0b0b0","strokeWidth":1.5},"encoding":{"y":{"field":"g","type":"quantitative"}}},
{"data":{"name":"frame"},"mark":{"type":"rect","fill":null,"stroke":"black","strokeWidth":1.6},"encoding":{"x":{"field":"l","type":"quantitative"},"x2":{"field":"r"},"y":{"field":"a","type":"quantitative"},"y2":{"field":"b"}}},
{"data":{"name":"box"},"mark":{"type":"rect","fill":"white","fillOpacity":0.8,"stroke":"#cccccc","strokeOpacity":0.8,"strokeWidth":1,"cornerRadius":3},"encoding":{"x":{"field":"l","type":"quantitative"},"x2":{"field":"r"},"y":{"field":"a","type":"quantitative"},"y2":{"field":"b"}}},
{"data":{"name":"samp"},"mark":{"type":"rule","color":"black","strokeWidth":3},"encoding":{"x":{"field":"l","type":"quantitative"},"x2":{"field":"r"},"y":{"field":"y","type":"quantitative"}}},
{"data":{"name":"t3"},"mark":{"type":"text","align":"left","baseline":"middle","fontSize":16.8,"color":"black"},"encoding":{"x":{"field":"x","type":"quantitative"},"y":{"field":"y","type":"quantitative"},"text":{"field":"t"}}}
]},
{"title":"Onset Latitude < 62 Deg","width":364,"height":259,"layer":[
{"data":{"name":"c4"},"mark":{"type":"rect","width":23,"strokeWidth":0.5},"encoding":{"x":{"field":"x","type":"quantitative","scale":{"domain":[-8,8],"nice":false,"zero":false},"axis":{"values":[-8,-6,-4,-2,0,2,4,6,8],"labelExpr":"datum.value>0?'+'+datum.value:''+datum.value","title":"MLT Sector from Onset MLT Sector","titlePadding":15}},"y":{"field":"a","type":"quantitative","scale":{"domain":[-60,120],"nice":false,"zero":false},"axis":{"values":[-60,-30,0,30,60,90,120],"labelExpr":"''+datum.value","title":["Time from","Substorm Onset","(minutes)"],"titlePadding":16.7,"titleLineHeight":20}},"y2":{"field":"b"},"color":{"field":"v","type":"quantitative","scale":{"domain":[-3,-1.5,0,1.5,3],"range":["#00004d","#0000ff","#ffffff","#ff0000","#800000"],"interpolate":"rgb"},"legend":null},"stroke":{"field":"v","type":"quantitative","scale":{"domain":[-3,-1.5,0,1.5,3],"range":["#00004d","#0000ff","#ffffff","#ff0000","#800000"],"interpolate":"rgb"},"legend":null}}},
{"data":{"name":"d4"},"mark":{"type":"point","shape":"circle","filled":true,"color":"black","size":60,"opacity":1},"encoding":{"x":{"field":"x","type":"quantitative"},"y":{"field":"y","type":"quantitative"}}},
{"data":{"name":"x4"},"mark":{"type":"point","shape":"M-1,-1L1,1M-1,1L1,-1","filled":false,"stroke":"black","strokeWidth":3.5,"size":225,"opacity":1},"encoding":{"x":{"field":"x","type":"quantitative"},"y":{"field":"y","type":"quantitative"}}},
{"data":{"name":"l4"},"mark":{"type":"line","color":"black","strokeWidth":3},"encoding":{"x":{"field":"x","type":"quantitative"},"y":{"field":"y","type":"quantitative"},"detail":{"field":"s"}}},
{"data":{"name":"gx"},"mark":{"type":"rule","color":"#b0b0b0","strokeWidth":1.5},"encoding":{"x":{"field":"g","type":"quantitative"}}},
{"data":{"name":"gy"},"mark":{"type":"rule","color":"#b0b0b0","strokeWidth":1.5},"encoding":{"y":{"field":"g","type":"quantitative"}}},
{"data":{"name":"frame"},"mark":{"type":"rect","fill":null,"stroke":"black","strokeWidth":1.6},"encoding":{"x":{"field":"l","type":"quantitative"},"x2":{"field":"r"},"y":{"field":"a","type":"quantitative"},"y2":{"field":"b"}}},
{"data":{"name":"box"},"mark":{"type":"rect","fill":"white","fillOpacity":0.8,"stroke":"#cccccc","strokeOpacity":0.8,"strokeWidth":1,"cornerRadius":3},"encoding":{"x":{"field":"l","type":"quantitative"},"x2":{"field":"r"},"y":{"field":"a","type":"quantitative"},"y2":{"field":"b"}}},
{"data":{"name":"samp"},"mark":{"type":"rule","color":"black","strokeWidth":3},"encoding":{"x":{"field":"l","type":"quantitative"},"x2":{"field":"r"},"y":{"field":"y","type":"quantitative"}}},
{"data":{"name":"t4"},"mark":{"type":"text","align":"left","baseline":"middle","fontSize":16.8,"color":"black"},"encoding":{"x":{"field":"x","type":"quantitative"},"y":{"field":"y","type":"quantitative"},"text":{"field":"t"}}}
]}
]},
{"width":18,"height":1246,"data":{"name":"cbar"},"mark":{"type":"rect","stroke":"black","strokeWidth":1.2,"fill":{"gradient":"linear","x1":0,"y1":1,"x2":0,"y2":0,"stops":[{"offset":0,"color":"#00004d"},{"offset":0.25,"color":"#0000ff"},{"offset":0.5,"color":"#ffffff"},{"offset":0.75,"color":"#ff0000"},{"offset":1,"color":"#800000"}]}},"encoding":{"x":{"field":"l","type":"quantitative","scale":{"domain":[0,1],"nice":false,"zero":false},"axis":null},"x2":{"field":"r"},"y":{"field":"a","type":"quantitative","scale":{"domain":[-3,3],"range":[1246,307],"nice":false,"zero":false},"axis":{"orient":"right","values":[-3,-2,-1,0,1,2,3],"domain":false,"labelFontSize":21,"title":"Difference in Latitude from Substorm Onset, Degrees","titleFontSize":22.5,"titleAngle":270,"titleBaseline":"middle","titleX":69,"titleY":791.5}},"y2":{"field":"b"}}}
]}
